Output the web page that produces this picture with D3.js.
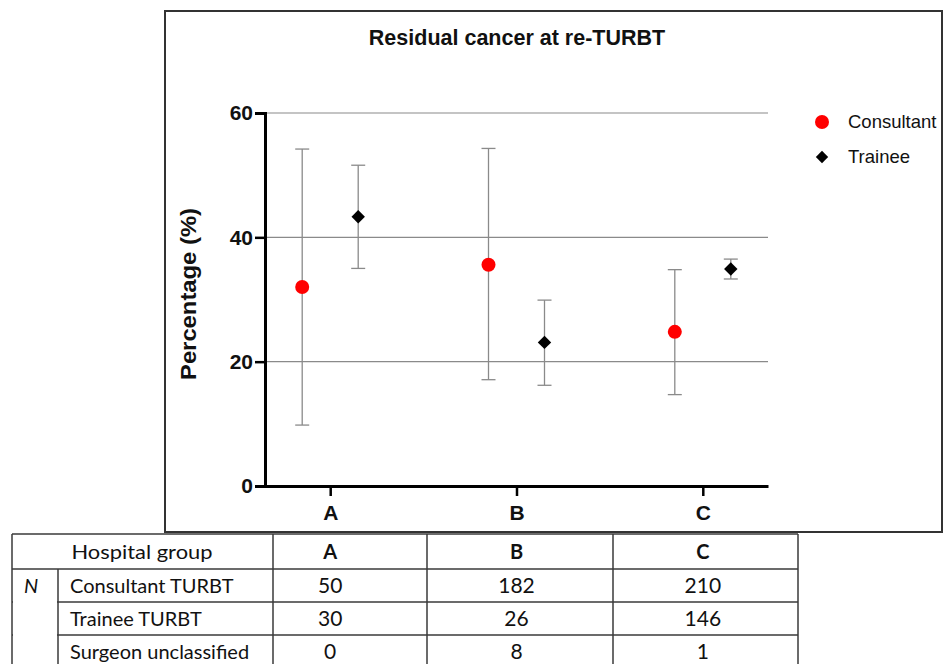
<!DOCTYPE html>
<html>
<head>
<meta charset="utf-8">
<script src="https://cdn.jsdelivr.net/npm/d3@7"></script>
<style>
  html, body { margin: 0; padding: 0; background: #fff; }
  svg { display: block; }
</style>
</head>
<body>
<svg id="chart" width="944" height="664"></svg>
<script>
// ---- data ----
const categories = ["A", "B", "C"];
const consultantValues = [32.0, 35.6, 24.8];
const consultantLow = [9.8, 17.1, 14.7];
const consultantHigh = [54.2, 54.3, 34.8];
const traineeValues = [43.3, 23.1, 34.9];
const traineeLow = [35.0, 16.2, 33.3];
const traineeHigh = [51.6, 29.9, 36.5];
const yTicks = [0, 20, 40, 60];
const seriesNames = ["Consultant", "Trainee"];
const tableRowLabels = ["Consultant TURBT", "Trainee TURBT", "Surgeon unclassified"];
const consultantN = [50, 182, 210];
const traineeN = [30, 26, 146];
const unclassifiedN = [0, 8, 1];

const svg = d3.select("#chart");
const arial = "Arial, 'Liberation Sans', Helvetica, sans-serif";
const calibri = "Lato, 'Open Sans', sans-serif";

// chart frame
svg.append("rect").attr("x", 165).attr("y", 11).attr("width", 777).attr("height", 521)
  .attr("fill", "none").attr("stroke", "#333").attr("stroke-width", 2);

const x0 = 265, x1 = 768, yTop = 113, yBot = 486;
const x = d3.scalePoint().domain(categories).range([x0, x1]).padding(0.35);
const y = d3.scaleLinear().domain([0, 60]).range([yBot, yTop]);

// title
svg.append("text").attr("x", 517).attr("y", 45).attr("text-anchor", "middle")
  .attr("font-family", arial).attr("font-weight", "bold").attr("font-size", 21.5)
  .attr("fill", "#111").text("Residual cancer at re-TURBT");

// gridlines
svg.append("g").selectAll("line").data(yTicks.filter(d => d > 0)).join("line")
  .attr("x1", x0).attr("x2", x1).attr("y1", d => y(d)).attr("y2", d => y(d))
  .attr("stroke", "#8a8a8a").attr("stroke-width", 1.2);

// y axis
const yAxis = svg.append("g").attr("transform", `translate(${x0},0)`)
  .call(d3.axisLeft(y).tickValues(yTicks).tickSize(10).tickPadding(2));
yAxis.select(".domain").attr("stroke", "#000").attr("stroke-width", 3);
yAxis.selectAll(".tick line").attr("stroke", "#000").attr("stroke-width", 2.5);
yAxis.selectAll(".tick text").attr("font-family", arial).attr("font-weight", "bold")
  .attr("font-size", 21).attr("fill", "#111");

// x axis
const xAxis = svg.append("g").attr("transform", `translate(0,${yBot})`)
  .call(d3.axisBottom(x).tickSize(10).tickPadding(9).tickSizeOuter(0));
xAxis.select(".domain").attr("stroke", "#000").attr("stroke-width", 3);
xAxis.selectAll(".tick line").attr("stroke", "#000").attr("stroke-width", 2.5);
xAxis.selectAll(".tick text").attr("font-family", arial).attr("font-weight", "bold")
  .attr("font-size", 21).attr("fill", "#111");

// y axis title
svg.append("text").attr("transform", "translate(196,294) rotate(-90)")
  .attr("text-anchor", "middle").attr("font-family", arial).attr("font-weight", "bold")
  .attr("font-size", 22).attr("textLength", 172).attr("lengthAdjust", "spacingAndGlyphs")
  .attr("fill", "#111").text("Percentage (%)");

// series
const offset = 28;
const series = [
  { name: "Consultant", vals: consultantValues, lo: consultantLow, hi: consultantHigh, dx: -offset },
  { name: "Trainee", vals: traineeValues, lo: traineeLow, hi: traineeHigh, dx: offset }
];
const capW = 7;
series.forEach(s => {
  const g = svg.append("g");
  const pts = categories.map((c, i) => ({ c, v: s.vals[i], lo: s.lo[i], hi: s.hi[i] }));
  g.selectAll("line.v").data(pts).join("line")
    .attr("x1", d => x(d.c) + s.dx).attr("x2", d => x(d.c) + s.dx)
    .attr("y1", d => y(d.lo)).attr("y2", d => y(d.hi))
    .attr("stroke", "#8a8a8a").attr("stroke-width", 1.3);
  ["lo", "hi"].forEach(k => {
    g.selectAll("line.c" + k).data(pts).join("line")
      .attr("x1", d => x(d.c) + s.dx - capW).attr("x2", d => x(d.c) + s.dx + capW)
      .attr("y1", d => y(d[k])).attr("y2", d => y(d[k]))
      .attr("stroke", "#8a8a8a").attr("stroke-width", 1.3);
  });
  if (s.name === "Consultant") {
    g.selectAll("circle").data(pts).join("circle")
      .attr("cx", d => x(d.c) + s.dx).attr("cy", d => y(d.v)).attr("r", 7)
      .attr("fill", "#ff0000");
  } else {
    g.selectAll("path").data(pts).join("path")
      .attr("d", d3.symbol().type(d3.symbolSquare).size(90))
      .attr("transform", d => `translate(${x(d.c) + s.dx},${y(d.v)}) rotate(45)`)
      .attr("fill", "#000");
  }
});

// legend
const leg = svg.append("g");
leg.append("circle").attr("cx", 822).attr("cy", 122).attr("r", 7).attr("fill", "#ff0000");
leg.append("path").attr("d", d3.symbol().type(d3.symbolSquare).size(76))
  .attr("transform", "translate(822,157) rotate(45)").attr("fill", "#000");
seriesNames.forEach((n, i) => {
  leg.append("text").attr("x", 848).attr("y", 122 + i * 35).attr("dy", "0.35em")
    .attr("font-family", arial).attr("font-size", 18.5).attr("fill", "#111").text(n);
});

// table
const tb = svg.append("g");
const rowY = [534, 569, 602, 635, 668];
const colX = [12, 58, 273, 427, 613, 798];
const lineC = "#3a3a3a";
rowY.forEach(ry => {
  tb.append("line").attr("x1", colX[0]).attr("x2", colX[5]).attr("y1", ry).attr("y2", ry)
    .attr("stroke", lineC).attr("stroke-width", 1.5);
});
// N cell spans rows: blank out inner horizontal lines there
tb.append("rect").attr("x", colX[0] + 1).attr("y", rowY[2] - 2).attr("width", colX[1] - colX[0] - 2).attr("height", 4).attr("fill", "#fff");
tb.append("rect").attr("x", colX[0] + 1).attr("y", rowY[3] - 2).attr("width", colX[1] - colX[0] - 2).attr("height", 4).attr("fill", "#fff");
[0, 2, 3, 4, 5].forEach(ci => {
  tb.append("line").attr("x1", colX[ci]).attr("x2", colX[ci]).attr("y1", rowY[0]).attr("y2", 664)
    .attr("stroke", lineC).attr("stroke-width", 1.5);
});
tb.append("line").attr("x1", colX[1]).attr("x2", colX[1]).attr("y1", rowY[1]).attr("y2", 664)
  .attr("stroke", lineC).attr("stroke-width", 1.5);

const midY = i => (rowY[i] + rowY[i + 1]) / 2;
tb.append("text").attr("x", 142).attr("y", midY(0)).attr("dy", "0.35em")
  .attr("text-anchor", "middle").attr("font-family", calibri).attr("font-size", 20)
  .attr("textLength", 141).attr("lengthAdjust", "spacingAndGlyphs")
  .attr("fill", "#111").text("Hospital group");
categories.forEach(c => {
  tb.append("text").attr("x", x(c)).attr("y", midY(0)).attr("dy", "0.35em")
    .attr("text-anchor", "middle").attr("font-family", calibri).attr("font-weight", "bold")
    .attr("font-size", 20).attr("fill", "#111").text(c);
});
tb.append("text").attr("x", 31).attr("y", midY(1)).attr("dy", "0.35em")
  .attr("text-anchor", "middle").attr("font-family", calibri).attr("font-style", "italic")
  .attr("font-size", 20).attr("fill", "#111").text("N");
const rowsData = [consultantN, traineeN, unclassifiedN];
tableRowLabels.forEach((lab, r) => {
  tb.append("text").attr("x", 70).attr("y", midY(r + 1)).attr("dy", "0.35em")
    .attr("font-family", calibri).attr("font-size", 20).attr("fill", "#111").text(lab);
  categories.forEach((c, i) => {
    tb.append("text").attr("x", x(c)).attr("y", midY(r + 1)).attr("dy", "0.35em")
      .attr("text-anchor", "middle").attr("font-family", calibri)
      .attr("font-size", 21).attr("fill", "#111").text(rowsData[r][i]);
  });
});
</script>
</body>
</html>
